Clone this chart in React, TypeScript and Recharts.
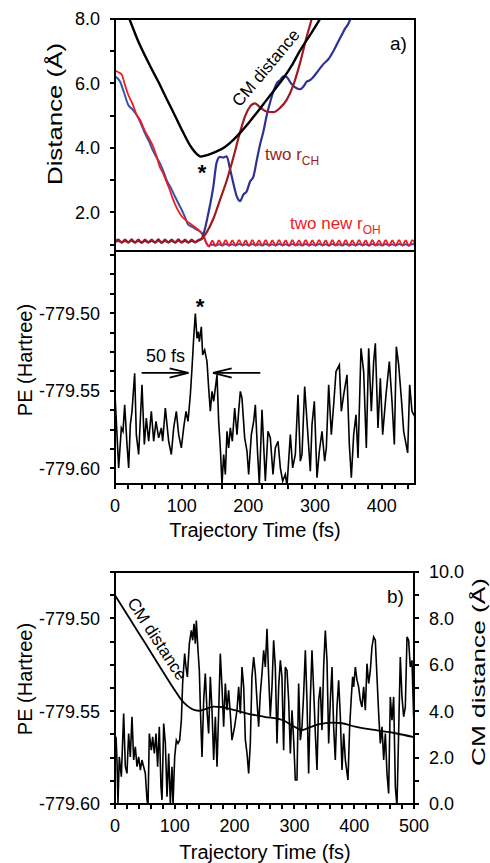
import React from 'react';
import { ComposedChart, Line, XAxis, YAxis, ReferenceLine } from 'recharts';

const FONT = '"Liberation Sans", Arial, Helvetica, sans-serif';

// ---- panel a) top: distances (Å) vs time (fs) ----
const cmTopT = [0, 10, 21.5, 35, 52.5, 65, 77.5, 90, 102.5, 112.5, 120, 125, 129, 135, 142.5, 152.5, 165, 177.5, 190, 202.5, 215, 227.5, 240, 252.5, 265, 277.5, 292.5, 307.5, 320];
const cmTopV = [9.05, 8.55, 8.0, 7.3, 6.55, 6.05, 5.52, 5.0, 4.47, 4.08, 3.87, 3.77, 3.73, 3.76, 3.81, 3.89, 4.03, 4.25, 4.52, 4.83, 5.15, 5.49, 5.82, 6.16, 6.55, 7.02, 7.5, 8.0, 8.42];

const rCh1T = [0, 5, 10, 15, 20, 25, 30, 35, 40, 45, 50, 55, 60, 65, 70, 75, 80, 85, 90, 95, 100, 105, 110, 115, 120, 125, 130,
  137.5, 147.5, 157.5, 167.5, 177.5, 187.5, 195, 202.5, 210, 217.5, 227.5, 237.5, 247.5, 257.5, 267.5, 277.5, 287.5, 295, 302];
const rCh1V = [1.10, 1.15, 1.06, 1.15, 1.06, 1.16, 1.06, 1.15, 1.05, 1.15, 1.06, 1.15, 1.06, 1.16, 1.05, 1.15, 1.06, 1.15, 1.06, 1.16, 1.06, 1.15, 1.06, 1.15, 1.07, 1.14, 1.18,
  1.38, 1.80, 2.39, 2.98, 3.70, 4.48, 4.98, 5.28, 5.38, 5.26, 5.13, 5.11, 5.24, 5.49, 5.95, 6.63, 7.45, 8.0, 8.6];

const rCh2T = [0, 5, 10, 15, 20, 25, 30, 35, 40, 45, 50, 55, 60, 65, 70, 75, 80, 85, 90, 95, 100, 105, 110, 115, 120, 125,
  130, 135, 140, 147.5, 152.5, 157.5, 162.5, 167.5, 172.5, 177.5,
  182.5, 187.5, 192.5, 197.5, 202.5, 207.5, 212.5, 217.5, 222.5, 227.5,
  232.5, 237.5, 242.5, 247.5, 252.5, 257.5, 262.5, 267.5, 272.5, 277.5,
  282.5, 287.5, 292.5, 297.5, 305, 312.5, 320, 327.5, 335, 340,
  345, 350, 353, 356];
const rCh2V = [1.08, 1.11, 1.07, 1.11, 1.08, 1.12, 1.07, 1.11, 1.07, 1.11, 1.08, 1.11, 1.07, 1.12, 1.07, 1.11, 1.08, 1.11, 1.07, 1.12, 1.08, 1.11, 1.07, 1.11, 1.08, 1.12,
  1.18, 1.5, 1.97, 2.8, 3.55, 3.72, 3.70, 3.74, 3.35, 2.9,
  2.5, 2.35, 2.55, 2.65, 2.95, 3.1, 3.6, 4.1, 4.5, 5.0,
  5.4, 5.75, 6.0, 6.1, 6.22, 6.2, 6.05, 5.92, 5.85, 5.82,
  5.9, 6.05, 6.1, 6.2, 6.4, 6.6, 6.75, 7.0, 7.3, 7.5,
  7.7, 7.85, 8.0, 8.2];

const rOh1EarlyT = [0, 5, 10, 15, 20, 26, 32, 38, 45, 51, 57, 62, 67, 72, 77, 82, 87, 93, 100, 106, 112, 118, 125, 130, 134, 138, 141];
const rOh1EarlyV = [6.40, 6.35, 6.28, 5.95, 5.64, 5.38, 5.05, 4.85, 4.52, 4.30, 4.05, 3.76, 3.42, 3.22, 2.96, 2.70, 2.40, 2.12, 1.88, 1.76, 1.66, 1.57, 1.46, 1.34, 1.18, 1.02, 0.94];
const rOh2EarlyT = [0, 7.5, 13, 20, 26, 32.5, 39, 45, 51, 57.5, 62.5, 67.5, 72.5, 77.5, 84, 90, 95, 100, 105, 110, 116, 122.5, 128, 132.5, 136, 140];
const rOh2EarlyV = [6.23, 6.06, 5.75, 5.33, 5.20, 5.02, 4.75, 4.45, 4.20, 3.89, 3.70, 3.52, 3.28, 3.00, 2.75, 2.49, 2.28, 2.08, 1.85, 1.61, 1.55, 1.46, 1.40, 1.30, 1.10, 0.96];

const ohLateT = [146, 151, 156, 161, 166, 171, 176, 181, 186, 191, 196, 201, 206, 211, 216, 221, 226, 231, 236, 241,
  246, 251, 256, 261, 266, 271, 276, 281, 286, 291, 296, 301, 306, 311, 316, 321, 326, 331, 336, 341,
  346, 351, 356, 361, 366, 371, 376, 381, 386, 391, 396, 401, 406, 411, 416, 421, 426, 431, 436, 441, 446, 451];
const rOh1LateV = [1.12, 0.96, 1.13, 0.97, 1.14, 0.96, 1.13, 0.97, 1.14, 0.97, 1.13, 0.96, 1.14, 0.97, 1.13, 0.97, 1.14, 0.96, 1.13, 0.97,
  1.14, 0.97, 1.13, 0.96, 1.14, 0.97, 1.13, 0.97, 1.14, 0.96, 1.13, 0.97, 1.14, 0.97, 1.13, 0.96, 1.14, 0.97, 1.13, 0.97,
  1.14, 0.96, 1.13, 0.97, 1.14, 0.97, 1.13, 0.96, 1.14, 0.97, 1.13, 0.97, 1.14, 0.96, 1.13, 0.97, 1.14, 0.97, 1.13, 0.96, 1.14, 0.97];
const rOh2LateV = [1.00, 0.97, 1.01, 0.97, 1.02, 0.98, 1.01, 0.97, 1.02, 0.98, 1.01, 0.97, 1.02, 0.98, 1.01, 0.97, 1.02, 0.98, 1.01, 0.97,
  1.02, 0.98, 1.01, 0.97, 1.02, 0.98, 1.01, 0.97, 1.02, 0.98, 1.01, 0.97, 1.02, 0.98, 1.01, 0.97, 1.02, 0.98, 1.01, 0.97,
  1.02, 0.98, 1.01, 0.97, 1.02, 0.98, 1.01, 0.97, 1.02, 0.98, 1.01, 0.97, 1.02, 0.98, 1.01, 0.97, 1.02, 0.98, 1.01, 0.97, 1.02, 0.98];

// ---- panel a) bottom: PE (Hartree) vs time ----
const peAT = [0, 5.5, 9.5, 12, 14.5, 18, 20.5, 23, 25.5, 29.5,
  32, 35.5, 40.5, 44, 47, 50.5, 54.5, 58, 61.5, 65.5,
  69.5, 71.5, 75.5, 80.5, 84.5, 88, 92, 95.5, 99.5, 103,
  106.5, 109.5, 113, 115.5, 118, 120.5, 123, 125, 126.5, 129.5,
  131.5, 134.5, 138, 140.5, 143, 145.5, 148, 150.5, 153, 155.5,
  158, 160.5, 163, 165.5, 168, 170.5, 173, 176, 179.5, 183,
  185.5, 188, 190.5, 194.5, 198, 200.5, 204.5, 208, 210.5, 214,
  216.5, 220.5, 225.5, 229.5, 233, 237, 240.5, 244.5, 248, 251.5,
  255.5, 258, 263, 266.5, 270.5, 274.5, 278, 280.5, 284.5, 288,
  293, 295.5, 299, 303, 306.5, 310.5, 314.5, 317, 320.5, 324.5,
  328, 331.5, 336.5, 339.5, 343, 348, 351.5, 354.5, 358, 361.5,
  364.5, 369, 373, 377, 380.5, 384.5, 388, 390.5, 394.5, 398,
  401.5, 406.5, 411.5, 415.5, 419, 422, 425.5, 429.5, 433, 439,
  442, 445.5, 449.5, 452];
const peAV = [-779.5526, -779.5996, -779.5739, -779.5761, -779.5590, -779.5846, -779.5996, -779.5718, -779.5632, -779.5387,
  -779.5782, -779.5910, -779.5462, -779.5846, -779.5675, -779.5825, -779.5632, -779.5825, -779.5697, -779.5803,
  -779.5739, -779.5825, -779.5611, -779.5825, -779.5910, -779.5739, -779.5632, -779.5782, -779.5868, -779.5739,
  -779.5632, -779.5697, -779.5526, -779.5355, -779.5162, -779.5002, -779.5162, -779.5120, -779.5184, -779.5088,
  -779.5269, -779.5237, -779.5312, -779.5483, -779.5632, -779.5504, -779.5568, -779.5483, -779.5397, -779.5697,
  -779.5868, -779.6103, -779.5910, -779.6038, -779.5761, -779.5868, -779.5739, -779.5825, -779.5611, -779.5782,
  -779.5632, -779.5504, -779.5547, -779.5803, -779.5889, -779.6038, -779.5782, -779.5697, -779.5590, -779.5910,
  -779.6103, -779.5622, -779.6081, -779.5761, -779.5803, -779.6038, -779.5868, -779.5825, -779.5996, -779.6081,
  -779.6038, -779.6113, -779.5782, -779.5996, -779.5910, -779.5526, -779.5953, -779.5910, -779.5472, -779.5697,
  -779.6017, -779.5718, -779.5568, -779.6060, -779.5889, -779.5761, -779.5953, -779.5868, -779.5462, -779.5782,
  -779.5590, -779.5376, -779.5333, -779.5632, -779.5526, -779.5397, -779.5846, -779.6060, -779.5782, -779.5654,
  -779.5932, -779.5226, -779.5376, -779.5868, -779.5226, -779.5632, -779.5312, -779.5194, -779.5739, -779.5419,
  -779.5782, -779.5526, -779.5312, -779.5568, -779.5846, -779.5216, -779.5333, -779.5547, -779.5761, -779.5900,
  -779.5462, -779.5632, -779.5665, -779.5697];

// ---- panel b): PE and CM distance vs time ----
const peBT = [0, 1.7, 3.3, 5, 7.2, 10.6, 14.5, 17.3, 20, 22.8,
  25.6, 28.4, 31.2, 34, 36.8, 39.6, 42.4, 45.1, 47.9, 50.7,
  53.5, 55.2, 57.4, 60.7, 63, 65.8, 68.6, 71.3, 74.1, 76.9,
  78.6, 81.4, 84.2, 87, 89.8, 92.5, 95.3, 97, 99.8, 102.6,
  105.3, 108.1, 111, 113.1, 116.5, 118.7, 121, 124.3, 127.6, 129.9,
  132.1, 134.3, 136, 138.8, 141, 143.2, 145.5, 148.3, 151, 153.8,
  156.6, 159.4, 162.2, 165, 167.8, 170.6, 173.3, 176.1, 178.9, 181.7,
  184.5, 187.3, 190, 192.8, 195.6, 200, 204, 206.8, 209.6, 212.4,
  215.2, 218, 220.8, 223.5, 226.3, 229, 231.9, 234.7, 237.4, 240.2,
  243, 245.8, 248.6, 251.4, 254.2, 257, 259.7, 262.5, 265.3, 268.1,
  270.9, 273.7, 276.5, 279.2, 282, 284.8, 287.6, 290.4, 293.2, 296,
  298.8, 301.5, 304.3, 307.1, 309.9, 312.7, 315.5, 318.3, 321, 323.8,
  326.6, 329.4, 332.2, 335, 337.8, 340.6, 343.3, 346.1, 348.9, 351.7,
  354.5, 357.3, 360.1, 362.9, 365.6, 368.4, 371.2, 374, 376.8, 379.6,
  382.4, 385.2, 389.6, 392.4, 395.2, 397.4, 399.1, 401.9, 404.7, 407.4,
  410.2, 413, 415.8, 418.6, 421.4, 424.2, 427, 429.7, 432.5, 435.3,
  438.1, 440.9, 443.7, 446.5, 449.3, 452.1, 454.8, 457.6, 460.4, 463.2,
  466, 468.8, 471.5, 474.3, 477.1, 479.9, 482.7, 485.5, 488.3, 491,
  493.8, 496.6, 499.4, 500];
const peBV = [-779.5674, -779.5638, -779.5763, -779.5996, -779.5746, -779.5853, -779.5513, -779.5799, -779.5835, -779.5620,
  -779.5746, -779.5530, -779.5763, -779.5692, -779.5799, -779.5746, -779.5817, -779.5763, -779.5799, -779.5835,
  -779.5978, -779.6010, -779.5620, -779.5710, -779.5638, -779.5728, -779.5620, -779.5799, -779.5584, -779.5907,
  -779.5978, -779.5566, -779.5674, -779.5961, -779.5728, -779.5996, -779.5799, -779.6005, -779.5746, -779.5656,
  -779.5674, -779.5656, -779.5548, -779.5351, -779.5190, -779.5262, -779.5315, -779.5136, -779.5065, -779.5118,
  -779.5029, -779.5136, -779.5011, -779.5172, -779.5280, -779.5530, -779.5746, -779.5441, -779.5297, -779.5495,
  -779.5620, -779.5315, -779.5495, -779.5763, -779.5530, -779.5799, -779.5513, -779.5190, -779.5369, -779.5584,
  -779.5351, -779.5495, -779.5387, -779.5513, -779.5656, -779.5584, -779.5495, -779.5369, -779.5513, -779.5262,
  -779.5369, -779.5656, -779.5728, -779.5835, -779.5674, -779.5315, -779.5208, -779.5297, -779.5441, -779.5584,
  -779.5405, -779.5297, -779.5172, -779.5262, -779.5056, -779.5315, -779.5530, -779.5369, -779.5118, -779.5262,
  -779.5674, -779.5369, -779.5226, -779.5315, -779.5710, -779.5262, -779.5280, -779.5441, -779.5728, -779.5495,
  -779.5656, -779.5871, -779.5871, -779.5351, -779.5656, -779.5584, -779.5405, -779.5172, -779.5441, -779.5835,
  -779.5441, -779.5172, -779.5387, -779.5620, -779.5817, -779.5441, -779.5369, -779.5602, -779.5262, -779.5065,
  -779.5226, -779.5674, -779.5441, -779.5262, -779.5584, -779.5763, -779.5477, -779.5333, -779.5530, -779.5817,
  -779.5620, -779.5763, -779.5871, -779.5584, -779.5423, -779.5315, -779.5369, -779.5262, -779.5333, -779.5369,
  -779.5441, -779.5477, -779.5369, -779.5495, -779.5244, -779.5351, -779.5280, -779.5154, -779.5100, -779.5118,
  -779.5315, -779.5513, -779.5674, -779.5584, -779.5763, -779.5620, -779.5835, -779.5943, -779.5423, -779.5548,
  -779.5423, -779.5907, -779.6014, -779.5620, -779.5208, -779.5423, -779.5530, -779.5477, -779.5100, -779.5118,
  -779.5262, -779.5226, -779.5530, -779.5548];

const cmBT = [0, 25, 50, 75, 100, 110, 120, 130, 140, 150, 165, 180, 200, 220, 250, 280, 300, 313, 325, 340, 363, 380, 402, 441, 469, 500];
const cmBV = [9.0, 7.97, 6.95, 5.92, 4.9, 4.52, 4.25, 4.08, 4.02, 4.08, 4.2, 4.17, 4.05, 3.91, 3.76, 3.62, 3.33, 3.19, 3.3, 3.43, 3.51, 3.48, 3.33, 3.16, 3.05, 2.88];

// ---- ticks ----
const distTicks = [1, 2, 3, 4, 5, 6, 7, 8];
const distLabels = [2, 4, 6, 8];
const time450Ticks = [0, 20, 40, 60, 80, 100, 120, 140, 160, 180, 200, 220, 240, 260, 280, 300, 320, 340, 360, 380, 400, 420, 440];
const time500Ticks = [0, 20, 40, 60, 80, 100, 120, 140, 160, 180, 200, 220, 240, 260, 280, 300, 320, 340, 360, 380, 400, 420, 440, 460, 480, 500];
const timeLabels = [0, 100, 200, 300, 400, 500];
const peATicks = [-779.6, -779.5875, -779.575, -779.5625, -779.55, -779.5375, -779.525, -779.5125, -779.5, -779.4875, -779.475, -779.4625];
const peBTicks = [-779.6, -779.5875, -779.575, -779.5625, -779.55, -779.5375, -779.525, -779.5125, -779.5, -779.4875, -779.475];
const peLabels = [-779.6, -779.55, -779.5];
const cmTicks = [0, 1, 2, 3, 4, 5, 6, 7, 8, 9, 10];
const cmLabels = [0, 2, 4, 6, 8, 10];

const pts = (ts: number[], vs: number[]) => ts.map((t, i) => ({ t, v: vs[i] }));
const has = (list: number[], v: number) => list.some((m) => Math.abs(m - v) < 1e-6);

const BLACK = '#000';
const DARK_RED = '#9e1b20';
const NAVY = '#2e3192';
const RED = '#ed1c24';
const BLUE = '#3953a8';
const TICK_LEN = 5;
const TICK_GAP = 10; // tickMargin used on every axis
const TW = 2; // tick / frame thickness, snapped to whole pixels

// tick renderers: tick mark as a pixel-snapped filled bar beside the label position recharts gives
function leftTick(labels: number[], digits: number) {
  return (p: any) => {
    const v = p.payload.value;
    return (
      <g>
        <rect x={Math.round(p.x + TICK_GAP)} y={Math.round(p.y) - 1} width={TICK_LEN} height={TW} fill={BLACK} />
        {has(labels, v) && (
          <text x={p.x} y={p.y} dy="0.355em" textAnchor="end" fontSize={18} fontFamily={FONT} fill={BLACK}>{v.toFixed(digits)}</text>
        )}
      </g>
    );
  };
}
function rightTick(labels: number[]) {
  return (p: any) => {
    const v = p.payload.value;
    return (
      <g>
        <rect x={Math.round(p.x - TICK_GAP - TICK_LEN)} y={Math.round(p.y) - 1} width={TICK_LEN} height={TW} fill={BLACK} />
        {has(labels, v) && (
          <text x={p.x} y={p.y} dy="0.355em" textAnchor="start" fontSize={18} fontFamily={FONT} fill={BLACK}>{v.toFixed(1)}</text>
        )}
      </g>
    );
  };
}
function bottomTick(p: any) {
  const v = p.payload.value;
  return (
    <g>
      <rect x={Math.round(p.x) - 1} y={Math.round(p.y - TICK_GAP - TICK_LEN)} width={TW} height={TICK_LEN} fill={BLACK} />
      {has(timeLabels, v) && (
        <text x={p.x} y={p.y} dy="0.71em" textAnchor="middle" fontSize={18} fontFamily={FONT} fill={BLACK}>{String(v)}</text>
      )}
    </g>
  );
}
// inward ticks hanging from the shared frame line
function topInnerTick(p: any) {
  return <rect x={Math.round(p.x) - 1} y={Math.round(p.y + TICK_GAP + TICK_LEN)} width={TW} height={TICK_LEN} fill={BLACK} />;
}

// plot frame as four pixel-snapped filled bars
function Frame({ x, y, w, h }: { x: number; y: number; w: number; h: number }) {
  return (
    <g fill={BLACK} shapeRendering="crispEdges">
      <rect x={x - 1} y={y - 1} width={w + 2} height={TW} />
      <rect x={x - 1} y={y + h - 1} width={w + 2} height={TW} />
      <rect x={x - 1} y={y - 1} width={TW} height={h + 2} />
      <rect x={x + w - 1} y={y - 1} width={TW} height={h + 2} />
    </g>
  );
}

// arrow level for the 50 fs marker
const arrowY = -779.5385;

export default function App() {
  return (
    <div style={{ position: 'absolute', left: 0, top: 0, width: 490, height: 863, background: '#fff', fontFamily: FONT }}>
      {/* panel a) distances */}
      <div style={{ position: 'absolute', left: 0, top: 0 }}>
        <ComposedChart width={490} height={251} margin={{ top: 19, right: 75, bottom: 0, left: 0 }}>
          <XAxis xAxisId="ta" type="number" dataKey="t" domain={[0, 450]} allowDataOverflow hide />
          <YAxis yAxisId="da" type="number" domain={[0.8, 8]} allowDataOverflow ticks={distTicks} interval={0}
            width={115} tickSize={TICK_LEN} tickMargin={TICK_GAP} tick={leftTick(distLabels, 1)} axisLine={false} tickLine={false} />
          <Line data={pts(rOh2EarlyT.concat(ohLateT), rOh2EarlyV.concat(rOh2LateV))} dataKey="v" xAxisId="ta" yAxisId="da"
            type="monotone" stroke={BLUE} strokeWidth={2} dot={false} isAnimationActive={false} />
          <Line data={pts(rOh1EarlyT.concat(ohLateT), rOh1EarlyV.concat(rOh1LateV))} dataKey="v" xAxisId="ta" yAxisId="da"
            type="monotone" stroke={RED} strokeWidth={1.8} dot={false} isAnimationActive={false} />
          <Line data={pts(rCh2T, rCh2V)} dataKey="v" xAxisId="ta" yAxisId="da"
            type="monotone" stroke={NAVY} strokeWidth={2.2} dot={false} isAnimationActive={false} />
          <Line data={pts(rCh1T, rCh1V)} dataKey="v" xAxisId="ta" yAxisId="da"
            type="monotone" stroke={DARK_RED} strokeWidth={2.2} dot={false} isAnimationActive={false} />
          <Line data={pts(cmTopT, cmTopV)} dataKey="v" xAxisId="ta" yAxisId="da"
            type="monotone" stroke={BLACK} strokeWidth={2.4} dot={false} isAnimationActive={false} />
        </ComposedChart>
      </div>

      {/* panel a) potential energy */}
      <div style={{ position: 'absolute', left: 0, top: 246 }}>
        <ComposedChart width={490} height={305} margin={{ top: 5, right: 75, bottom: 0, left: 0 }}>
          <XAxis xAxisId="tTop" orientation="top" type="number" domain={[0, 450]} ticks={time450Ticks} interval={0}
            height={0} tickSize={TICK_LEN} tickMargin={TICK_GAP} tick={topInnerTick} axisLine={false} tickLine={false} />
          <XAxis xAxisId="tb" orientation="bottom" type="number" dataKey="t" domain={[0, 450]} allowDataOverflow
            ticks={time450Ticks} interval={0} height={67} tickSize={TICK_LEN} tickMargin={TICK_GAP}
            tick={bottomTick} axisLine={false} tickLine={false} />
          <YAxis yAxisId="pa" type="number" domain={[-779.61, -779.46]} allowDataOverflow ticks={peATicks} interval={0}
            width={115} tickSize={TICK_LEN} tickMargin={TICK_GAP} tick={leftTick(peLabels, 2)} axisLine={false} tickLine={false} />
          <Line data={pts(peAT, peAV)} dataKey="v" xAxisId="tb" yAxisId="pa"
            type="linear" stroke={BLACK} strokeWidth={1.6} dot={false} isAnimationActive={false} />
          <ReferenceLine xAxisId="tb" yAxisId="pa" stroke={BLACK} strokeWidth={1.8} segment={[{ x: 40, y: arrowY }, { x: 110, y: arrowY }]} />
          <ReferenceLine xAxisId="tb" yAxisId="pa" stroke={BLACK} strokeWidth={1.8} segment={[{ x: 82, y: arrowY + 0.003 }, { x: 110, y: arrowY }]} />
          <ReferenceLine xAxisId="tb" yAxisId="pa" stroke={BLACK} strokeWidth={1.8} segment={[{ x: 82, y: arrowY - 0.003 }, { x: 110, y: arrowY }]} />
          <ReferenceLine xAxisId="tb" yAxisId="pa" stroke={BLACK} strokeWidth={1.8} segment={[{ x: 147, y: arrowY }, { x: 218, y: arrowY }]} />
          <ReferenceLine xAxisId="tb" yAxisId="pa" stroke={BLACK} strokeWidth={1.8} segment={[{ x: 175, y: arrowY + 0.003 }, { x: 147, y: arrowY }]} />
          <ReferenceLine xAxisId="tb" yAxisId="pa" stroke={BLACK} strokeWidth={1.8} segment={[{ x: 175, y: arrowY - 0.003 }, { x: 147, y: arrowY }]} />
        </ComposedChart>
      </div>

      {/* panel b) */}
      <div style={{ position: 'absolute', left: 0, top: 557 }}>
        <ComposedChart width={490} height={306} margin={{ top: 15, right: 0, bottom: 0, left: 0 }}>
          <XAxis xAxisId="bb" orientation="bottom" type="number" dataKey="t" domain={[0, 500]} allowDataOverflow
            ticks={time500Ticks} interval={0} height={59} tickSize={TICK_LEN} tickMargin={TICK_GAP}
            tick={bottomTick} axisLine={false} tickLine={false} />
          <YAxis yAxisId="pb" type="number" domain={[-779.6, -779.475]} allowDataOverflow ticks={peBTicks} interval={0}
            width={115} tickSize={TICK_LEN} tickMargin={TICK_GAP} tick={leftTick(peLabels, 2)} axisLine={false} tickLine={false} />
          <YAxis yAxisId="cm" orientation="right" type="number" domain={[0, 10]} allowDataOverflow ticks={cmTicks} interval={0}
            width={76} tickSize={TICK_LEN} tickMargin={TICK_GAP} tick={rightTick(cmLabels)} axisLine={false} tickLine={false} />
          <Line data={pts(peBT, peBV)} dataKey="v" xAxisId="bb" yAxisId="pb"
            type="linear" stroke={BLACK} strokeWidth={1.6} dot={false} isAnimationActive={false} />
          <Line data={pts(cmBT, cmBV)} dataKey="v" xAxisId="bb" yAxisId="cm"
            type="monotone" stroke={BLACK} strokeWidth={1.8} dot={false} isAnimationActive={false} />
        </ComposedChart>
      </div>

      {/* frames, titles and annotations */}
      <svg width={490} height={863} style={{ position: 'absolute', left: 0, top: 0, pointerEvents: 'none' }} fontFamily={FONT}>
        <Frame x={115} y={19} w={300} h={232} />
        <Frame x={115} y={251} w={300} h={233} />
        <Frame x={115} y={572} w={299} h={232} />

        <text transform="translate(55,114) rotate(-90)" textAnchor="middle" dominantBaseline="central" fontSize={20}
          textLength={142} lengthAdjust="spacingAndGlyphs">Distance (Å)</text>
        <text transform="translate(25,360) rotate(-90)" textAnchor="middle" dominantBaseline="central" fontSize={20}>PE (Hartree)</text>
        <text x={255} y={537} textAnchor="middle" fontSize={20}>Trajectory Time (fs)</text>
        <text transform="translate(25,679) rotate(-90)" textAnchor="middle" dominantBaseline="central" fontSize={20}>PE (Hartree)</text>
        <text transform="translate(478,672) rotate(-90)" textAnchor="middle" dominantBaseline="central" fontSize={19}
          textLength={188} lengthAdjust="spacingAndGlyphs">CM distance (Å)</text>
        <text x={265} y={859} textAnchor="middle" fontSize={20}>Trajectory Time (fs)</text>

        <text x={390} y={50} fontSize={19}>a)</text>
        <text x={387} y={603} fontSize={19}>b)</text>
        <text x={202} y={180} textAnchor="middle" fontSize={22} fontWeight="bold">*</text>
        <text x={200} y={314} textAnchor="middle" fontSize={22} fontWeight="bold">*</text>
        <text transform="translate(266,68) rotate(-50)" textAnchor="middle" dominantBaseline="central" fontSize={17}>CM distance</text>
        <text transform="translate(157,639) rotate(57)" textAnchor="middle" dominantBaseline="central" fontSize={17}>CM distance</text>
        <text x={265} y={160} fontSize={17} fill={DARK_RED}>two r<tspan fontSize={12} dy={5}>CH</tspan></text>
        <text x={290} y={229} fontSize={17} fill={RED}>two new r<tspan fontSize={12} dy={5}>OH</tspan></text>
        <text x={146} y={362} fontSize={18}>50 fs</text>
      </svg>
    </div>
  );
}
